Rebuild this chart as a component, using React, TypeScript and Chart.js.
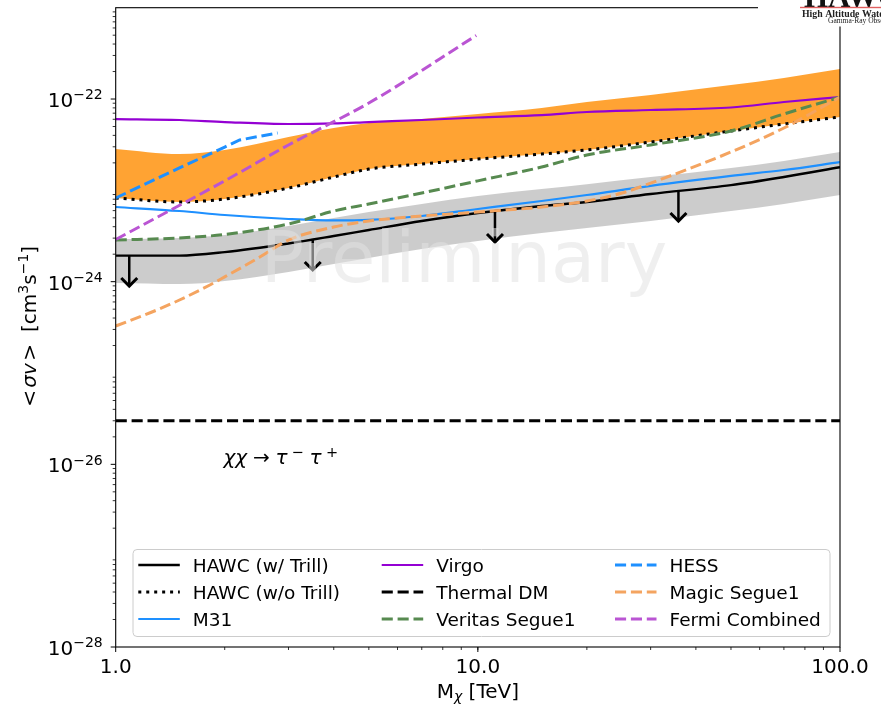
import React, { useEffect, useRef } from "react";
import { Chart, registerables } from "chart.js";

Chart.register(...registerables);

// Dark-matter mass grid (TeV) shared by the HAWC curves and the other limits
const massGrid = [1, 1.5, 2, 3, 4, 5, 7, 10, 15, 20, 30, 50, 70, 100];

// <σv> upper limits, cm^3 s^-1
const hawcWithTrill = [1.93e-24, 1.93e-24, 2.11e-24, 2.62e-24, 3.16e-24, 3.68e-24, 4.62e-24, 5.65e-24, 6.74e-24, 7.46e-24, 9.12e-24, 1.14e-23, 1.4e-23, 1.79e-23];
const hawcBandHigh = [2.93e-24, 3.01e-24, 3.25e-24, 4.07e-24, 4.98e-24, 5.79e-24, 7.09e-24, 8.67e-24, 1.035e-23, 1.17e-23, 1.4e-23, 1.76e-23, 2.1e-23, 2.63e-23];
const hawcBandLow = [9.67e-25, 9.43e-25, 1.02e-24, 1.28e-24, 1.56e-24, 1.82e-24, 2.28e-24, 2.79e-24, 3.41e-24, 3.87e-24, 4.62e-24, 5.94e-24, 7.09e-24, 8.89e-24];
const hawcWithoutTrill = [8.25e-24, 7.46e-24, 8.04e-24, 1.06e-23, 1.4e-23, 1.71e-23, 1.94e-23, 2.2e-23, 2.5e-23, 2.77e-23, 3.38e-23, 4.47e-23, 5.33e-23, 6.36e-23];
const noTrillBandHigh = [2.84e-23, 2.5e-23, 2.77e-23, 3.84e-23, 4.82e-23, 5.46e-23, 6.04e-23, 6.86e-23, 7.98e-23, 9.28e-23, 1.107e-22, 1.42e-22, 1.7e-22, 2.13e-22];
const m31 = [6.57e-24, 5.94e-24, 5.37e-24, 4.86e-24, 4.68e-24, 4.74e-24, 5.24e-24, 6.25e-24, 7.65e-24, 8.89e-24, 1.12e-23, 1.44e-23, 1.67e-23, 2.04e-23];
const virgo = [6.04e-23, 5.89e-23, 5.6e-23, 5.33e-23, 5.4e-23, 5.6e-23, 5.89e-23, 6.28e-23, 6.68e-23, 7.21e-23, 7.58e-23, 8.08e-23, 9.28e-23, 1.05e-22];
const veritasSegue1 = [2.86e-24, 3.01e-24, 3.29e-24, 4.28e-24, 5.94e-24, 7.09e-24, 9.35e-24, 1.27e-23, 1.8e-23, 2.44e-23, 3.14e-23, 4.47e-23, 6.86e-23, 1.05e-22];

const hessMass = [1, 1.5, 2, 2.2, 2.8];
const hess = [8.25e-24, 1.76e-23, 2.98e-23, 3.56e-23, 4.25e-23];

const magicMass = [1, 1.3, 1.5, 1.82, 2, 2.5, 3, 4, 5, 7, 10, 15, 20, 25, 30, 50, 70, 100];
const magicSegue1 = [3.27e-25, 4.9e-25, 6.3e-25, 9.2e-25, 1.13e-24, 1.86e-24, 2.86e-24, 3.97e-24, 4.62e-24, 5.24e-24, 5.79e-24, 6.57e-24, 7.65e-24, 9.35e-24, 1.2e-23, 2.63e-23, 4.82e-23, 1.05e-22];

const fermiMass = [1, 2, 3, 5, 9.9];
const fermiCombined = [2.9e-24, 1.27e-23, 3.14e-23, 9.05e-23, 4.96e-22];

const thermalMass = [1, 100];
const thermalDM = [3e-26, 3e-26];

// Downward arrows marking the HAWC limits as upper limits
const arrowMass = [1.09, 3.5, 11.15, 35.8];
const arrowFrom = [1.91e-24, 2.86e-24, 5.79e-24, 9.59e-24];
const arrowTo = [8.74e-25, 1.31e-24, 2.65e-24, 4.5e-24];

// Axis ticks
const xMajor = [1, 10, 100];
const xMajorLabels = ["1.0", "10.0", "100.0"];
const yLabelExponents = [-28, -26, -24, -22];
const yMin = 1e-28;
const yMax = 1e-21;

const FONT = "'DejaVu Sans', sans-serif";
const DASH = [11.1, 4.8];
const DOT = [3, 4.95];

const pairs = (xs: number[], ys: number[]) => xs.map((x, i) => ({ x, y: ys[i] }));

type Run = { text: string; size: number; italic?: boolean; rise?: number; gap?: number };

const fontOf = (r: Run) => `${r.italic ? "italic " : ""}${r.size}px ${FONT}`;

function runsWidth(ctx: CanvasRenderingContext2D, runs: Run[]) {
  let w = 0;
  for (const r of runs) {
    ctx.font = fontOf(r);
    w += ctx.measureText(r.text).width + (r.gap ?? 0);
  }
  return w;
}

function drawRuns(ctx: CanvasRenderingContext2D, runs: Run[], x: number, y: number) {
  for (const r of runs) {
    ctx.font = fontOf(r);
    ctx.fillText(r.text, x, y - (r.rise ?? 0));
    x += ctx.measureText(r.text).width + (r.gap ?? 0);
  }
}

const decorPlugin = {
  id: "decor",
  afterDatasetsDraw(chart: any) {
    const { ctx, chartArea: a, scales } = chart;
    const xs = scales.x;
    const ys = scales.y;
    ctx.save();
    ctx.beginPath();
    ctx.rect(a.left, a.top, a.right - a.left, a.bottom - a.top);
    ctx.clip();

    // upper-limit arrows
    ctx.strokeStyle = "#000";
    ctx.lineCap = "butt";
    ctx.lineJoin = "miter";
    arrowMass.forEach((m, i) => {
      const px = xs.getPixelForValue(m);
      const y0 = ys.getPixelForValue(arrowFrom[i]);
      const y1 = ys.getPixelForValue(arrowTo[i]);
      ctx.lineWidth = 2.5;
      ctx.beginPath();
      ctx.moveTo(px, y0);
      ctx.lineTo(px, y1 - 1);
      ctx.stroke();
      ctx.lineWidth = 3;
      ctx.beginPath();
      ctx.moveTo(px - 8, y1 - 9);
      ctx.lineTo(px, y1 - 1);
      ctx.lineTo(px + 8, y1 - 9);
      ctx.stroke();
    });

    // annihilation channel
    ctx.fillStyle = "#000";
    ctx.textAlign = "left";
    ctx.textBaseline = "alphabetic";
    const base = 464;
    ctx.font = `italic 20px ${FONT}`;
    ctx.fillText("χχ", 223.5, base);
    ctx.font = `20px ${FONT}`;
    ctx.fillText("→", 253, base);
    ctx.font = `italic 20px ${FONT}`;
    ctx.fillText("τ", 275.5, base);
    ctx.font = `14.5px ${FONT}`;
    ctx.fillText("−", 291.5, base - 7.5);
    ctx.font = `italic 20px ${FONT}`;
    ctx.fillText("τ", 309.5, base);
    ctx.font = `14.5px ${FONT}`;
    ctx.fillText("+", 326, base - 7.5);

    // watermark
    ctx.font = `72px ${FONT}`;
    ctx.fillStyle = "rgba(225,225,225,0.55)";
    ctx.textAlign = "center";
    ctx.fillText("Preliminary", 464, 282);
    ctx.restore();
  },
  afterDraw(chart: any) {
    const { ctx, chartArea: a, scales } = chart;
    const xs = scales.x;
    const ys = scales.y;
    ctx.save();
    ctx.fillStyle = "#000";
    ctx.strokeStyle = "#000";

    // frame
    ctx.lineWidth = 1.1;
    ctx.strokeRect(a.left, a.top, a.right - a.left, a.bottom - a.top);

    // x ticks
    for (let d = 1; d < 100; d *= 10) {
      for (let k = 1; k <= 10; k++) {
        const v = d * k;
        if (v > 100) continue;
        const major = k === 1 || v === 100;
        const px = xs.getPixelForValue(v);
        ctx.lineWidth = major ? 1 : 0.8;
        ctx.beginPath();
        ctx.moveTo(px, a.bottom);
        ctx.lineTo(px, a.bottom + (major ? 5 : 3));
        ctx.stroke();
      }
    }
    // y ticks
    for (let e = -28; e < -21; e++) {
      for (let k = 1; k <= 9; k++) {
        const v = k * Math.pow(10, e);
        const major = k === 1 && e % 2 === 0;
        if (k === 1 && !major) continue;
        const py = ys.getPixelForValue(v);
        ctx.lineWidth = major ? 1 : 0.8;
        ctx.beginPath();
        ctx.moveTo(a.left, py);
        ctx.lineTo(a.left - (major ? 5 : 3), py);
        ctx.stroke();
      }
    }

    // tick labels
    ctx.textBaseline = "alphabetic";
    ctx.font = `20px ${FONT}`;
    ctx.textAlign = "center";
    xMajor.forEach((v, i) => {
      ctx.fillText(xMajorLabels[i], xs.getPixelForValue(v), 673.3);
    });
    ctx.textAlign = "left";
    yLabelExponents.forEach((e) => {
      const py = ys.getPixelForValue(Math.pow(10, e));
      const runs: Run[] = [
        { text: "10", size: 20 },
        { text: `−${-e}`, size: 14, rise: 7.7 },
      ];
      const w = runsWidth(ctx, runs);
      drawRuns(ctx, runs, 102.7 - w, py + 7.9);
    });

    // axis titles
    const xTitle: Run[] = [
      { text: "M", size: 20 },
      { text: "χ", size: 14, italic: true, rise: -3 },
      { text: " [TeV]", size: 20 },
    ];
    const xw = runsWidth(ctx, xTitle);
    drawRuns(ctx, xTitle, (a.left + a.right) / 2 - xw / 2, 698.3);

    const yTitle: Run[] = [
      { text: "<", size: 20, gap: 2.4 },
      { text: "σv", size: 20, italic: true, gap: 2.4 },
      { text: ">", size: 20, gap: 12 },
      { text: "[cm", size: 20 },
      { text: "3", size: 14, rise: 7.5 },
      { text: "s", size: 20 },
      { text: "−1", size: 14, rise: 7.5 },
      { text: "]", size: 20 },
    ];
    const yw = runsWidth(ctx, yTitle);
    ctx.save();
    ctx.translate(35.7, (a.top + a.bottom) / 2 - 1);
    ctx.rotate(-Math.PI / 2);
    drawRuns(ctx, yTitle, -yw / 2, 0);
    ctx.restore();

    // legend
    const box = { x: 133, y: 549.5, w: 697, h: 87 };
    ctx.beginPath();
    (ctx as any).roundRect(box.x, box.y, box.w, box.h, 4);
    ctx.fillStyle = "rgba(255,255,255,0.8)";
    ctx.fill();
    ctx.lineWidth = 1;
    ctx.strokeStyle = "#cccccc";
    ctx.stroke();

    const colX = [138.3, 381.7, 615];
    const rowY = [565, 592, 619];
    const entries = chart.data.datasets.filter((ds: any) => ds.label);
    entries.forEach((ds: any, i: number) => {
      const cx = colX[Math.floor(i / 3)];
      const cy = rowY[i % 3];
      ctx.save();
      ctx.strokeStyle = ds.borderColor;
      ctx.lineWidth = ds.borderWidth;
      ctx.setLineDash(ds.borderDash || []);
      ctx.lineCap = "butt";
      ctx.beginPath();
      ctx.moveTo(cx, cy);
      ctx.lineTo(cx + 41.5, cy);
      ctx.stroke();
      ctx.restore();
      ctx.fillStyle = "#000";
      ctx.font = `18.5px ${FONT}`;
      ctx.fillText(ds.label, cx + 54.5, cy + 6.7);
    });

    // observatory logo in the top-right corner
    ctx.fillStyle = "#fff";
    ctx.fillRect(758, 0, 123, 26.5);
    ctx.fillStyle = "#111";
    ctx.font = "bold 31px 'Liberation Serif', serif";
    ctx.fillText("HAWC", 804, 6.5);
    ctx.fillStyle = "#e06060";
    ctx.fillRect(800, 6.8, 81, 1.4);
    ctx.fillStyle = "#222";
    ctx.font = "bold 9.8px 'Liberation Serif', serif";
    ctx.fillText("High Altitude Water Cherenkov", 802, 16.5);
    ctx.font = "7.5px 'Liberation Serif', serif";
    ctx.fillText("Gamma-Ray Observatory", 828, 22.5);
    ctx.restore();
  },
};

export default function App() {
  const ref = useRef<HTMLCanvasElement | null>(null);

  useEffect(() => {
    document.body.style.margin = "0";
    const canvas = ref.current;
    if (!canvas) return;

    const line = (label: string, xs: number[], ys: number[], color: string, width: number, dash: number[] | undefined, order: number, smooth = true) => ({
      label,
      data: pairs(xs, ys),
      borderColor: color,
      borderWidth: width,
      borderDash: dash,
      showLine: true,
      fill: false,
      pointRadius: 0,
      cubicInterpolationMode: smooth ? "monotone" : "default",
      order,
    });

    const band = (xs: number[], ys: number[], color: string | undefined, fill: any) => ({
      label: "",
      data: pairs(xs, ys),
      borderColor: "rgba(0,0,0,0)",
      borderWidth: 0,
      backgroundColor: color,
      showLine: true,
      fill,
      pointRadius: 0,
      cubicInterpolationMode: "monotone",
      order: 20,
    });

    const chart = new Chart(canvas, {
      type: "scatter",
      data: {
        datasets: [
          line("HAWC (w/ Trill)", massGrid, hawcWithTrill, "#000000", 2.4, undefined, 9),
          line("HAWC (w/o Trill)", massGrid, hawcWithoutTrill, "#000000", 3, DOT, 8),
          line("M31", massGrid, m31, "#1e90ff", 2.2, undefined, 7),
          line("Virgo", massGrid, virgo, "#9400d3", 2.2, undefined, 6),
          line("Thermal DM", thermalMass, thermalDM, "#000000", 3, DASH, 5, false),
          line("Veritas Segue1", massGrid, veritasSegue1, "#578a50", 3, DASH, 4),
          line("HESS", hessMass, hess, "#1e90ff", 3, DASH, 3, false),
          line("Magic Segue1", magicMass, magicSegue1, "#f4a460", 3, DASH, 2),
          line("Fermi Combined", fermiMass, fermiCombined, "#ba55d3", 3, DASH, 1),
          band(massGrid, noTrillBandHigh, "rgba(255,140,0,0.8)", 1),
          band(massGrid, hawcBandHigh, "rgba(128,128,128,0.4)", "+1"),
          band(massGrid, hawcBandLow, undefined, false),
        ],
      },
      options: {
        responsive: false,
        animation: false,
        events: [],
        layout: { padding: { top: 7.7, right: 41, left: 0, bottom: 0 } },
        plugins: {
          legend: { display: false },
          tooltip: { enabled: false },
        },
        elements: { line: { tension: 0 }, point: { radius: 0 } },
        scales: {
          x: {
            type: "logarithmic",
            min: 1,
            max: 100,
            grid: { display: false },
            border: { display: false },
            ticks: { display: false },
            afterFit: (s: any) => {
              s.height = 61;
            },
          },
          y: {
            type: "logarithmic",
            min: yMin,
            max: yMax,
            grid: { display: false },
            border: { display: false },
            ticks: { display: false },
            afterFit: (s: any) => {
              s.width = 115.7;
            },
          },
        },
      } as any,
      plugins: [decorPlugin],
    });

    return () => chart.destroy();
  }, []);

  return (
    <div style={{ width: 881, height: 708 }}>
      <canvas ref={ref} width={881} height={708} style={{ display: "block", width: 881, height: 708 }} />
    </div>
  );
}
